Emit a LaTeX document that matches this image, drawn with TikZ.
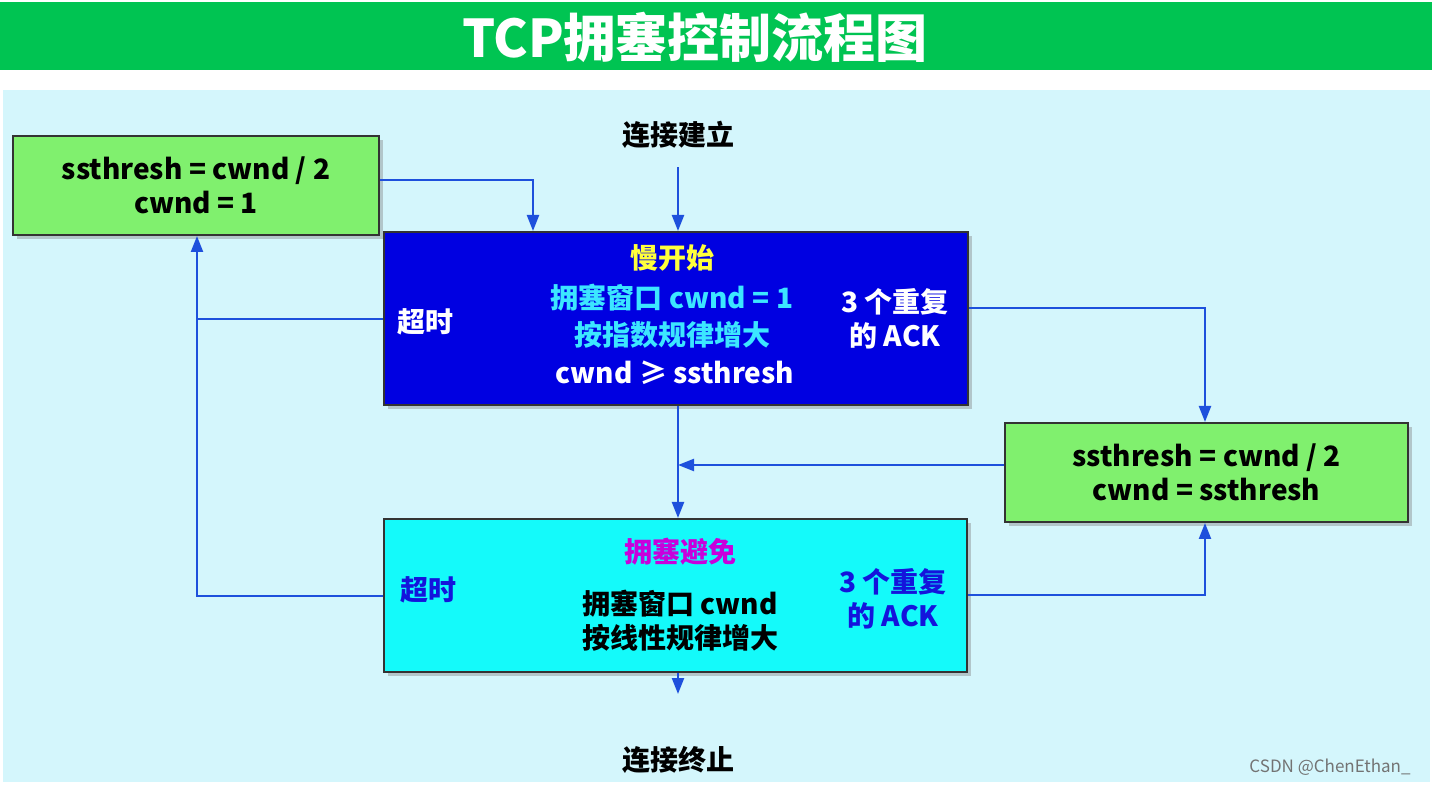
\documentclass[tikz,border=0pt]{standalone}
\usepackage{fontspec}
\setmainfont{Noto Sans CJK SC}
\usetikzlibrary{arrows.meta,shadows}
\definecolor{bannergreen}{RGB}{0,196,82}
\definecolor{bgcyan}{RGB}{212,246,252}
\definecolor{boxgreen}{RGB}{128,240,110}
\definecolor{ssblue}{RGB}{0,0,225}
\definecolor{cabox}{RGB}{20,250,250}
\definecolor{arrowblue}{RGB}{30,80,220}
\definecolor{txtcyan}{RGB}{60,230,255}
\definecolor{txtyellow}{RGB}{255,255,60}
\definecolor{txtmag}{RGB}{200,0,220}
\definecolor{txtblue}{RGB}{20,20,220}
\tikzset{
 box/.style={draw=black!80,line width=1pt,drop shadow={shadow xshift=2pt,shadow yshift=-2pt,opacity=0.4}},
 t/.style={font=\fontsize{14}{17}\selectfont\bfseries,inner sep=0pt,align=center},
 conn/.style={draw=arrowblue,line width=1.1pt},
 arr/.style={conn,-{Triangle[width=6pt,length=8pt]}}
}
\begin{document}
\begin{tikzpicture}[x=0.5pt,y=-0.5pt]
\useasboundingbox (0,0) rectangle (1432,785);
\fill[white] (0,0) rectangle (1432,785);
\fill[bannergreen] (0,2) rectangle (1432,70);
\node[t,white,font=\fontsize{26}{30}\selectfont\bfseries] (title) at (695,37) {TCP拥塞控制流程图};
\fill[bgcyan] (3,90) rectangle (1430,782);
% boxes
\node[box,fill=boxgreen,minimum width=183pt,minimum height=49.5pt,anchor=north west] (b1) at (12,135) {};
\node[t] (b1t) at (b1.center) {ssthresh = cwnd / 2\\cwnd = 1};
\node[box,fill=ssblue,minimum width=292pt,minimum height=86.5pt,anchor=north west] (ss) at (383,231) {};
\node[box,fill=boxgreen,minimum width=201.5pt,minimum height=49.5pt,anchor=north west] (b2) at (1004,422) {};
\node[t] (b2t) at (b2.center) {ssthresh = cwnd / 2\\cwnd = ssthresh};
\node[box,fill=cabox,minimum width=291.5pt,minimum height=76.5pt,anchor=north west] (ca) at (383,518) {};
\node[t] (start) at (678,135) {连接建立};
\node[t] (end) at (678,760) {连接终止};
% slow start texts
\node[t,txtyellow] at (672,258) {慢开始};
\node[t,txtcyan] at (672,298) {拥塞窗口 cwnd = 1};
\node[t,txtcyan] at (672,335) {按指数规律增大};
\node[t,white] at (675,373) {cwnd ≥ ssthresh};
\node[t,white] at (425,322) {超时};
\node[t,white] at (895,319) {3 个重复\\的 ACK};
% CA texts
\node[t,txtmag] at (680,552) {拥塞避免};
\node[t,txtblue] at (428,590) {超时};
\node[t,black] at (680,621) {拥塞窗口 cwnd\\按线性规律增大};
\node[t,txtblue] at (893,599) {3 个重复\\的 ACK};
\node[font=\fontsize{8.5}{10}\selectfont,text=black!55,inner sep=0pt] (wm) at (1330,767) {CSDN @ChenEthan\_};
% connectors
\coordinate (k1) at (533,180);
\coordinate (k2) at (197,596);
\coordinate (k3) at (197,319);
\coordinate (k4) at (1205,308);
\coordinate (k5) at (1205,595);
\coordinate (j) at (678,465);
\draw[arr] (start.south)++(0,18) -- (ss.north -| start);
\draw[arr] (b1.east |- k1) -- (k1) -- (ss.north -| k1);
\draw[arr] (ca.west |- k2) -- (k2) -- (b1.south -| k2);
\draw[conn] (ss.west |- k3) -- (k3);
\draw[arr] (ss.east |- k4) -- (k4) -- (b2.north -| k4);
\draw[arr] (ca.east |- k5) -- (k5) -- (b2.south -| k5);
\draw[arr] (b2.west |- j) -- (j);
\draw[arr] (ss.south -| j) -- (ca.north -| j);
\draw[arr] (ca.south -| j) -- ([yshift=26pt]end.north);
\end{tikzpicture}
\end{document}
